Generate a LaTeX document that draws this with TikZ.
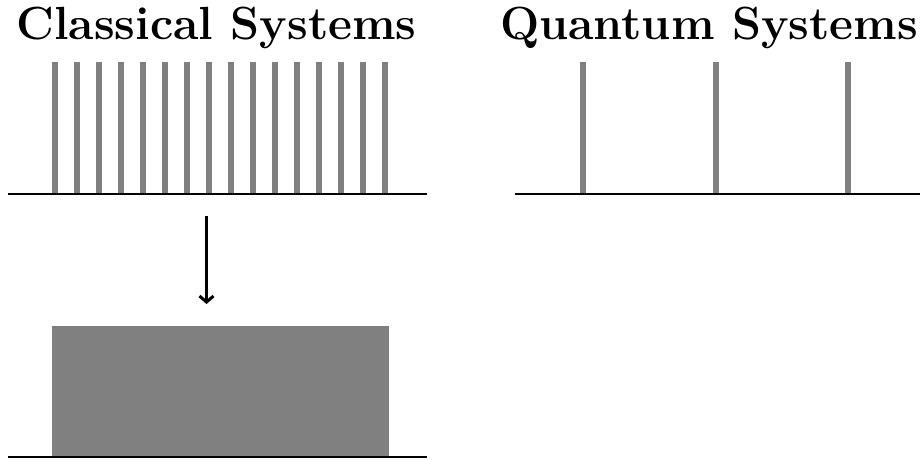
\documentclass[tikz,border=0pt]{standalone}
\usetikzlibrary{arrows.meta}
\begin{document}
\begin{tikzpicture}[x=1pt,y=-1pt,
  axisline/.style={line width=2pt,black},
  peak/.style={line width=6pt,gray},
  title/.style={font=\fontsize{46.5}{54}\selectfont\bfseries,anchor=base,inner sep=0pt},
  conn/.style={line width=3pt,-{Straight Barb[length=6pt,width=14pt]}}]
\useasboundingbox (0,0) rectangle (920,460);
% titles
\node[title] (tc) at (216.5,40) {Classical Systems};
\node[title] (tq) at (709,40) {Quantum Systems};
% classical axis and lines
\coordinate (ca1) at (8,194);
\coordinate (ca2) at (427,194);
\foreach \i in {0,...,15}{
  \coordinate (cb\i) at ({55+22*\i},194);
  \coordinate (ct\i) at ({55+22*\i},62);
  \draw[peak] (cb\i) -- (ct\i);
}
\draw[axisline] (ca1) -- (ca2);
% quantum axis and lines
\coordinate (qa1) at (515,194);
\coordinate (qa2) at (922,194);
\foreach \i/\x in {0/583,1/716,2/848}{
  \coordinate (qb\i) at (\x,194);
  \coordinate (qt\i) at (\x,62);
  \draw[peak] (qb\i) -- (qt\i);
}
\draw[axisline] (qa1) -- (qa2);
% arrow
\coordinate (as) at (206.5,216);
\coordinate (ae) at (206.5,304);
\draw[conn] (as) -- (ae);
% continuum block
\node[fill=gray,draw=none,minimum width=337pt,minimum height=131pt,inner sep=0pt,anchor=north west] (blk) at (52,326) {};
\coordinate (ba1) at (8,457);
\coordinate (ba2) at (427,457);
\draw[axisline] (ba1) -- (ba2);
\end{tikzpicture}
\end{document}
